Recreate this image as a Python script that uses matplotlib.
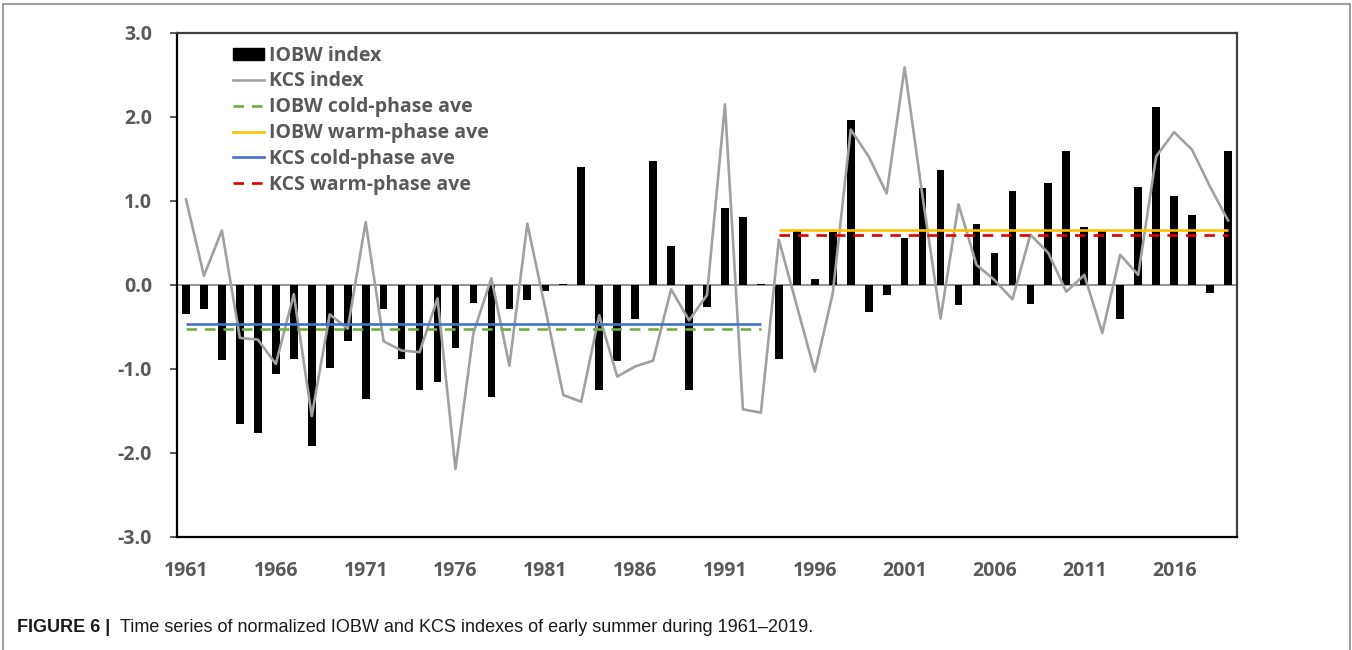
import numpy as np
import matplotlib.pyplot as plt
from matplotlib.lines import Line2D
from matplotlib.patches import Rectangle

plt.rcParams["font.family"] = ["Open Sans", "DejaVu Sans"]

years = list(range(1961, 2020))

# normalized IOBW index (bars)
iobw = [
    -0.34, -0.29, -0.89, -1.65, -1.76, -1.06, -0.88, -1.92, -0.99, -0.67,
    -1.36, -0.28, -0.88, -1.25, -1.16, -0.75, -0.21, -1.33, -0.29, -0.18,
    -0.07, 0.01, 1.40, -1.25, -0.91, -0.41, 1.48, 0.46, -1.25, -0.26,
    0.92, 0.81, 0.01, -0.88, 0.64, 0.07, 0.63, 1.97, -0.32, -0.12,
    0.56, 1.15, 1.37, -0.24, 0.73, 0.38, 1.12, -0.23, 1.21, 1.60,
    0.69, 0.65, -0.40, 1.17, 2.12, 1.06, 0.83, -0.09, 1.60,
]

# normalized KCS index (line)
kcs = [
    1.02, 0.11, 0.65, -0.63, -0.65, -0.94, -0.11, -1.56, -0.35, -0.52,
    0.75, -0.67, -0.78, -0.80, -0.16, -2.19, -0.57, 0.08, -0.96, 0.73,
    -0.28, -1.31, -1.39, -0.36, -1.09, -0.97, -0.90, -0.05, -0.42, -0.12,
    2.15, -1.48, -1.52, 0.54, -0.25, -1.03, -0.10, 1.85, 1.53, 1.09,
    2.59, 1.05, -0.40, 0.96, 0.24, 0.06, -0.17, 0.60, 0.38, -0.08,
    0.12, -0.57, 0.36, 0.12, 1.53, 1.82, 1.61, 1.17, 0.77,
]

# phase means: cold phase 1961-1993, warm phase 1994-2019
cold_span = (1961, 1993)
warm_span = (1994, 2019)
iobw_cold, iobw_warm = -0.52, 0.66
kcs_cold, kcs_warm = -0.46, 0.60

tick_years = years[::5]
yticks = [-3.0, -2.0, -1.0, 0.0, 1.0, 2.0, 3.0]

LABEL_GRAY = "#595959"

fig = plt.figure(figsize=(13.52, 6.5), dpi=100)
ax = fig.add_axes([177 / 1352, 1 - 537 / 650, 1060 / 1352, 504 / 650])

ax.axhline(0, color="#7f7f7f", linewidth=1.2, zorder=1)
ax.bar(years, iobw, width=0.43, color="black", zorder=2)
ax.plot(years, kcs, color="#a0a0a0", linewidth=1.9, zorder=3)
ax.hlines(iobw_cold, *cold_span, colors="#70AD47", linestyles=(0, (4, 3)),
          linewidth=1.9, zorder=4)
ax.hlines(kcs_cold, *cold_span, colors="#4472C4", linewidth=1.9, zorder=4)
ax.hlines(iobw_warm, *warm_span, colors="#FFC000", linewidth=1.9, zorder=4)
ax.hlines(kcs_warm, *warm_span, colors="#E00000", linestyles=(0, (4, 3)),
          linewidth=1.9, zorder=4)

ax.set_xlim(1960.5, 2019.5)
ax.set_ylim(-3, 3)
ax.set_yticks(yticks)
ax.set_yticklabels([f"{v:.1f}" for v in yticks])
ax.set_xticks(tick_years)
ax.set_xticklabels([str(y) for y in tick_years])

for side in ["left", "bottom"]:
    ax.spines[side].set_color("black")
    ax.spines[side].set_linewidth(1.6)
for side in ["top", "right"]:
    ax.spines[side].set_color("#404040")
    ax.spines[side].set_linewidth(1.6)

ax.tick_params(axis="y", direction="out", length=5, width=1.2, pad=13,
               labelsize=14, labelcolor=LABEL_GRAY, color="#404040")
ax.tick_params(axis="x", length=0, pad=17, labelsize=14,
               labelcolor=LABEL_GRAY)
for lab in ax.get_xticklabels() + ax.get_yticklabels():
    lab.set_fontweight("bold")

handles = [
    Rectangle((0, 0), 1, 1, facecolor="black", edgecolor="black"),
    Line2D([], [], color="#a0a0a0", linewidth=1.9),
    Line2D([], [], color="#70AD47", linewidth=1.9, linestyle=(0, (4, 3))),
    Line2D([], [], color="#FFC000", linewidth=1.9),
    Line2D([], [], color="#4472C4", linewidth=1.9),
    Line2D([], [], color="#E00000", linewidth=1.9, linestyle=(0, (4, 3))),
]
labels = ["IOBW index", "KCS index", "IOBW cold-phase ave",
          "IOBW warm-phase ave", "KCS cold-phase ave", "KCS warm-phase ave"]
leg = ax.legend(handles, labels, loc="upper left",
                bbox_to_anchor=(0.053, 0.975), frameon=False,
                handlelength=1.6, handleheight=0.6, handletextpad=0.22,
                labelspacing=0.30, borderpad=0, borderaxespad=0,
                prop={"size": 14, "weight": "bold"})
for t in leg.get_texts():
    t.set_color(LABEL_GRAY)

# outer frame of the figure panel
fig.patches.append(Rectangle((3 / 1352, -0.05), 1347 / 1352, 1.05 - 4 / 650,
                             transform=fig.transFigure, fill=False,
                             edgecolor="#8c8c8c", linewidth=1.2))

cap_y = 1 - 628 / 650
fig.text(17 / 1352, cap_y, "FIGURE 6 |", fontsize=13, fontweight="bold",
         family=["Liberation Sans", "DejaVu Sans"], va="center",
         color="#1a1a1a")
fig.text(120 / 1352, cap_y,
         "Time series of normalized IOBW and KCS indexes of early summer during 1961\u20132019.",
         fontsize=13, family=["Liberation Sans", "DejaVu Sans"], va="center",
         color="#1a1a1a")

fig.savefig("out.png", dpi=100)
